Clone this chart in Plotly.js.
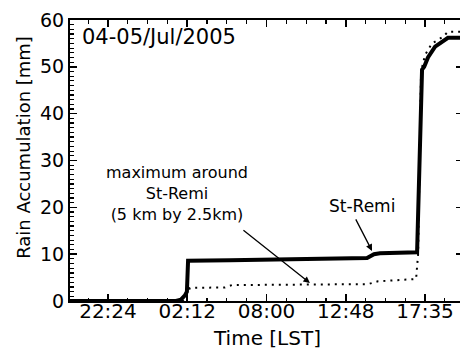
<!DOCTYPE html>
<html>
<head>
<meta charset="utf-8">
<script src="https://cdn.plot.ly/plotly-3.0.1.min.js"></script>
<style>
html,body{margin:0;padding:0;overflow:hidden;background:#fff;}
#chart{width:463px;height:350px;}
</style>
</head>
<body>
<div id="chart"></div>
<script>
// Time axis in hours since 04 Jul 00:00 (LST)
const tickHours = [22.4, 27.2, 32.0, 36.8, 41.6];
const tickLabels = ["22:24", "02:12", "08:00", "12:48", "17:35"];

// St-Remi (solid)
const stRemiTime = [20.1, 26.52, 26.82, 27.06, 27.18, 27.25, 29.79, 34.03, 38.09, 38.51, 38.87, 41.12, 41.42, 41.55, 41.78, 42.21, 42.69, 42.99, 43.9];
const stRemiRain = [0, 0, 0.3, 1.2, 2.0, 8.6, 8.7, 8.9, 9.2, 10.0, 10.2, 10.4, 49.4, 50.0, 52.0, 54.3, 55.4, 56.2, 56.2];

// Maximum around St-Remi (dotted)
const maxTime = [20.1, 26.94, 27.25, 27.37, 29.49, 29.91, 34.03, 38.15, 38.75, 41.06, 41.18, 41.36, 41.6, 42.02, 42.69, 42.99, 43.9];
const maxRain = [0, 0, 2.0, 2.8, 2.9, 3.4, 3.5, 3.6, 4.2, 4.7, 10.0, 49.0, 52.5, 55.0, 56.4, 57.5, 57.5];

const yTicks = [0, 10, 20, 30, 40, 50, 60];

const FONT = "DejaVu Sans, Liberation Sans, Arial, sans-serif";

const traces = [
  {x: maxTime, y: maxRain, type: "scatter", mode: "lines",
   line: {color: "#000", width: 2, dash: "2px,5px"}, hoverinfo: "skip"},
  {x: stRemiTime, y: stRemiRain, type: "scatter", mode: "lines",
   line: {color: "#000", width: 4}, hoverinfo: "skip"}
];

const layout = {
  width: 463, height: 350,
  margin: {l: 70, r: 0, t: 20, b: 49},
  paper_bgcolor: "#fff", plot_bgcolor: "#fff",
  showlegend: false,
  font: {family: FONT, color: "#000"},
  xaxis: {
    range: [20.1, 43.9], tickvals: tickHours, ticktext: tickLabels,
    ticks: "inside", ticklen: 7, tickwidth: 1.5, tickcolor: "#000",
    ticklabelstandoff: -9,
    minor: {dtick: 1.2, tick0: 22.4, ticks: "inside", ticklen: 3.5, tickwidth: 1.2, tickcolor: "#000", showgrid: false},
    showline: true, linecolor: "#000", linewidth: 2, mirror: "ticks",
    showgrid: false, zeroline: false,
    tickfont: {family: FONT, size: 20, color: "#000"}
  },
  yaxis: {
    range: [0, 60], tickvals: yTicks,
    ticks: "inside", ticklen: 7, tickwidth: 1.5, tickcolor: "#000",
    minor: {dtick: 1, ticks: "inside", ticklen: 3.5, tickwidth: 1.2, tickcolor: "#000", showgrid: false},
    showline: true, linecolor: "#000", linewidth: 2, mirror: "ticks",
    showgrid: false, zeroline: false,
    tickfont: {family: FONT, size: 19, color: "#000"}
  },
  annotations: [
    {xref: "paper", yref: "paper", x: 0.026, y: 0.9395, xanchor: "left", yanchor: "middle",
     text: "04-05/Jul/2005", showarrow: false, font: {family: FONT, size: 21, color: "#000"}},
    {xref: "paper", yref: "paper", x: -0.117, y: 0.545, xanchor: "center", yanchor: "middle",
     text: "Rain Accumulation [mm]", textangle: -90, showarrow: false, font: {family: FONT, size: 18, color: "#000"}},
    {xref: "paper", yref: "paper", x: 0.501, y: -0.132, xanchor: "center", yanchor: "middle",
     text: "Time [LST]", showarrow: false, font: {family: FONT, size: 20, color: "#000"}},
    {xref: "paper", yref: "paper", x: 0.272, y: 0.384, xanchor: "center", yanchor: "middle", align: "center",
     text: "maximum around<br>St-Remi<br>(5 km by 2.5km)", showarrow: false, font: {family: FONT, size: 16, color: "#000"}},
    {xref: "paper", yref: "paper", x: 0.743, y: 0.338, xanchor: "center", yanchor: "middle",
     text: "St-Remi", showarrow: false, font: {family: FONT, size: 17, color: "#000"}},
    {xref: "x", yref: "y", x: 34.63, y: 3.85, text: "", showarrow: true,
     ax: -68, ay: -54, arrowhead: 2, arrowsize: 1, arrowwidth: 1.3, arrowcolor: "#000"},
    {xref: "x", yref: "y", x: 38.39, y: 10.7, text: "", showarrow: true,
     ax: -17, ay: -33, arrowhead: 2, arrowsize: 1, arrowwidth: 1.3, arrowcolor: "#000"}
  ]
};

Plotly.newPlot("chart", traces, layout, {displayModeBar: false, staticPlot: true});
</script>
</body>
</html>
